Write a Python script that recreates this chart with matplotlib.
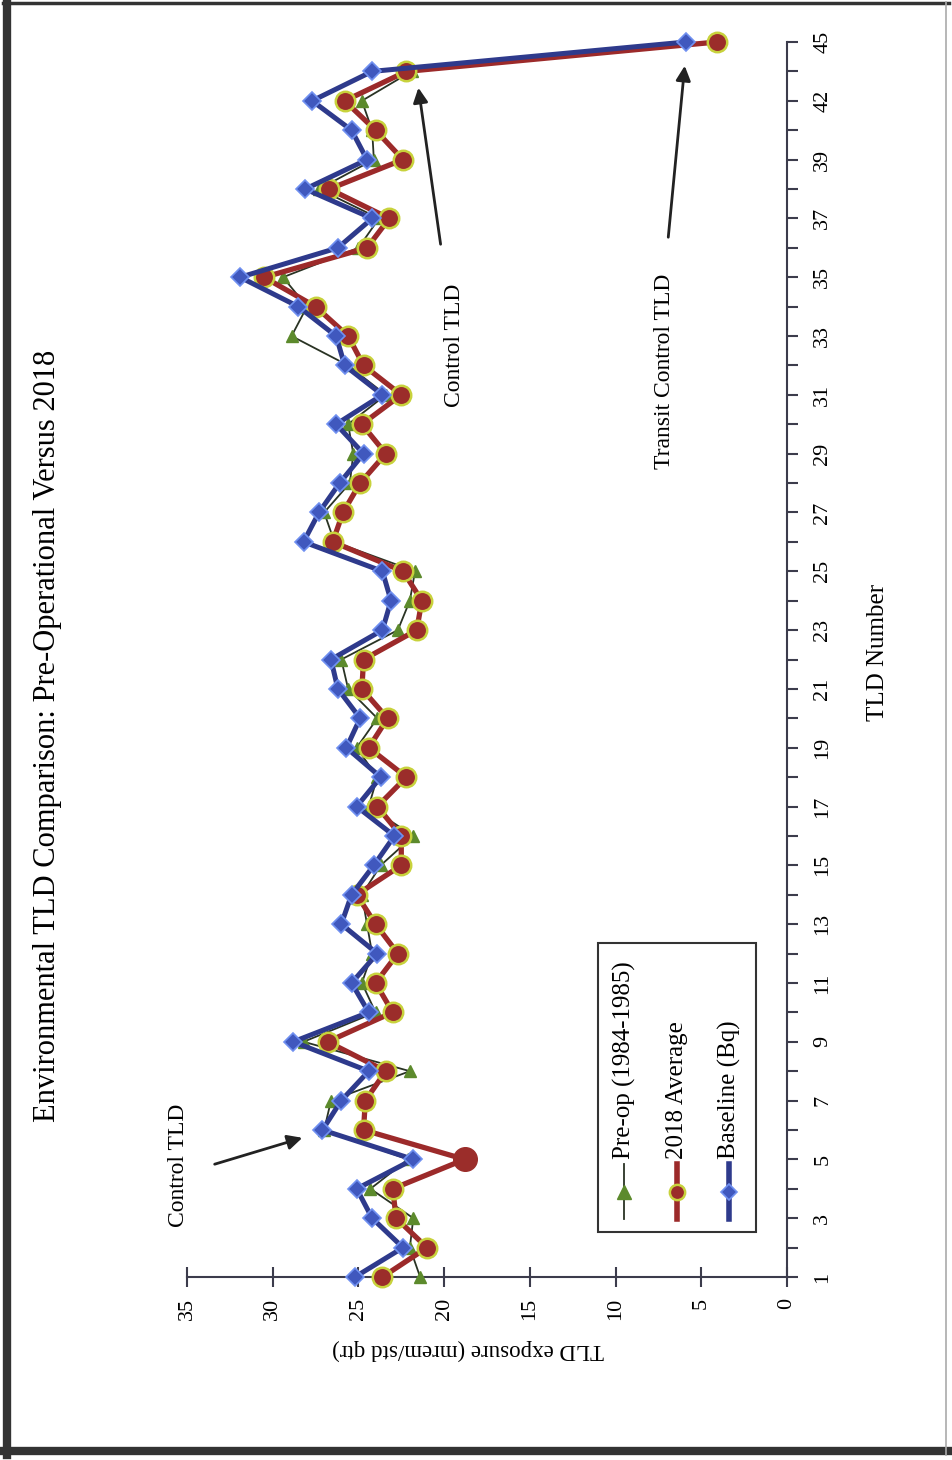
import numpy as np
import matplotlib.pyplot as plt
from matplotlib.lines import Line2D
from matplotlib.patches import Rectangle

plt.rcParams['font.family'] = ['Liberation Serif', 'DejaVu Serif']

# TLD stations (categorical axis, every other one labelled)
tld_labels = [str(i) for i in range(1, 40)] + ['40', '42', '43', '45']

preop = [21.4, 22.0, 21.8, 24.3, 22.1, 27.0, 26.6, 22.0, 28.2, 24.0,
         24.8, 24.2, 24.5, 24.8, 23.7, 21.8, 24.4, 23.9, 25.1, 23.9,
         25.6, 26.0, 22.7, 22.0, 21.7, 26.4, 27.0, 25.5, 25.3, 25.6,
         23.4, 25.6, 28.9, 28.0, 29.4, 25.0, 23.8, 27.3, 24.1, 24.2,
         24.8, 21.9, np.nan]
avg2018 = [23.6, 21.0, 22.8, 23.0, 18.8, 24.7, 24.6, 23.4, 26.8, 23.0,
           24.0, 22.7, 24.0, 25.1, 22.5, 22.5, 23.9, 22.2, 24.4, 23.3,
           24.8, 24.7, 21.6, 21.3, 22.4, 26.5, 25.9, 24.9, 23.4, 24.8,
           22.5, 24.7, 25.6, 27.5, 30.5, 24.5, 23.2, 26.7, 22.4, 24.0,
           25.8, 22.2, 4.1]
baseline = [25.2, 22.4, 24.2, 25.1, 21.8, 27.1, 26.0, 24.4, 28.8, 24.4,
            25.4, 23.9, 26.0, 25.4, 24.1, 22.9, 25.1, 23.7, 25.7, 24.9,
            26.2, 26.6, 23.6, 23.1, 23.6, 28.2, 27.3, 26.1, 24.7, 26.3,
            23.6, 25.8, 26.3, 28.5, 31.9, 26.2, 24.2, 28.1, 24.5, 25.4,
            27.7, 24.2, 5.9]

series_names = ['Pre-op (1984-1985)', '2018 Average', 'Baseline (Bq)']

W, H = 952, 1460


def fx(px):
    return px / W


def fy(py):
    return 1 - py / H


axis_col = '#3c3c4c'
green_line = '#2a3324'
green_mk = '#5c8a2c'
red_line = '#9c2a2a'
red_face = '#9b2d2a'
red_edge = '#c8d23c'
blue_line = '#2e3a8c'
blue_face = '#4058be'
blue_edge = '#7090f0'

fig = plt.figure(figsize=(W / 100, H / 100), dpi=100)
ax = fig.add_axes([fx(187), fy(1277), fx(787) - fx(187), fy(42) - fy(1277)])
pos = np.arange(len(tld_labels))

ax.plot(preop, pos, color=green_line, lw=1.3, marker='^', ms=9,
        mfc=green_mk, mec=green_mk, clip_on=False, zorder=3)
ax.plot(avg2018, pos, color=red_line, lw=3.8, marker='o', ms=14,
        mfc=red_face, mec=red_edge, mew=1.8, clip_on=False, zorder=4)
big = tld_labels.index('5')
ax.plot(avg2018[big], pos[big], 'o', ms=17, color=red_face, clip_on=False, zorder=4.5)
ax.plot(baseline, pos, color=blue_line, lw=3.6, marker='D', ms=9.5,
        mfc=blue_face, mec=blue_edge, mew=1.2, clip_on=False, zorder=5)

ax.set_xlim(35, 0)
ax.set_ylim(0, len(tld_labels) - 1)
for s in ['top', 'left']:
    ax.spines[s].set_visible(False)
for s in ['bottom', 'right']:
    ax.spines[s].set_color(axis_col)
    ax.spines[s].set_linewidth(1.5)

ax.set_xticks(range(0, 36, 5))
ax.tick_params(axis='x', direction='inout', length=14, width=1.5, color=axis_col,
               pad=8, labelsize=16, labelrotation=90)
ax.yaxis.tick_right()
ax.set_yticks(pos)
ax.set_yticklabels([lab if i % 2 == 0 else '' for i, lab in enumerate(tld_labels)])
ax.tick_params(axis='y', direction='out', length=8, width=1.5, color=axis_col,
               pad=11, labelsize=16, labelrotation=90)
for lab in ax.get_yticklabels():
    lab.set_va('center')

fig.text(fx(48), fy(736), 'Environmental TLD Comparison: Pre-Operational Versus 2018',
         rotation=90, ha='center', va='center', fontsize=22)
fig.text(fx(878), fy(652), 'TLD Number', rotation=90, ha='center', va='center', fontsize=18)
fig.text(fx(468), fy(1350), 'TLD exposure (mrem/std qtr)', rotation=180,
         ha='center', va='center', fontsize=16.5)

# annotations
arrow = dict(arrowstyle='-|>', lw=2, color='#222222', mutation_scale=22)
fig.text(fx(178), fy(1165), 'Control TLD', rotation=90, ha='center', va='center', fontsize=17)
ax.annotate('', xy=(fx(305), fy(1137)), xytext=(fx(212), fy(1165)),
            xycoords='figure fraction', textcoords='figure fraction', arrowprops=arrow)
fig.text(fx(455), fy(345), 'Control TLD', rotation=90, ha='center', va='center', fontsize=17)
ax.annotate('', xy=(fx(418), fy(85)), xytext=(fx(441), fy(247)),
            xycoords='figure fraction', textcoords='figure fraction', arrowprops=arrow)
fig.text(fx(665), fy(371), 'Transit Control TLD', rotation=90, ha='center', va='center', fontsize=17)
ax.annotate('', xy=(fx(685), fy(63)), xytext=(fx(668), fy(240)),
            xycoords='figure fraction', textcoords='figure fraction', arrowprops=arrow)

# legend drawn by hand (rotated with the chart)
fig.add_artist(Rectangle((fx(598), fy(1232)), fx(756) - fx(598), fy(943) - fy(1232),
                         transform=fig.transFigure, facecolor='white',
                         edgecolor='#333333', lw=1.5))
styles = [
    dict(color=green_line, lw=1.3, marker='^', ms=10, mfc=green_mk, mec=green_mk),
    dict(color=red_line, lw=4, marker='o', ms=11, mfc=red_face, mec=red_edge, mew=1.8),
    dict(color=blue_line, lw=4, marker='D', ms=8, mfc=blue_face, mec=blue_edge, mew=1.2),
]
for xpix, name, st in zip([624, 677, 729], series_names, styles):
    fig.add_artist(Line2D([fx(xpix), fx(xpix)], [fy(1219), fy(1164)],
                          transform=fig.transFigure, color=st['color'], lw=st['lw']))
    fig.add_artist(Line2D([fx(xpix)], [fy(1192)], transform=fig.transFigure, ls='none',
                          **{k: v for k, v in st.items() if k not in ('color', 'lw')}))
    fig.text(fx(xpix), fy(1159), name, rotation=90, rotation_mode='anchor',
             ha='left', va='center', fontsize=18)

# page frame
fig.add_artist(Line2D([fx(7), fx(7)], [fy(2), fy(1455)], transform=fig.transFigure,
                      color='#333333', lw=6))
fig.add_artist(Line2D([fx(3), fx(949)], [fy(1451), fy(1451)], transform=fig.transFigure,
                      color='#333333', lw=6))
fig.add_artist(Line2D([fx(3), fx(949)], [fy(3), fy(3)], transform=fig.transFigure,
                      color='#333333', lw=2.5))
fig.add_artist(Line2D([fx(946), fx(946)], [fy(2), fy(1455)], transform=fig.transFigure,
                      color='#aaaaaa', lw=1.2))

fig.savefig('out.png', dpi=100)
